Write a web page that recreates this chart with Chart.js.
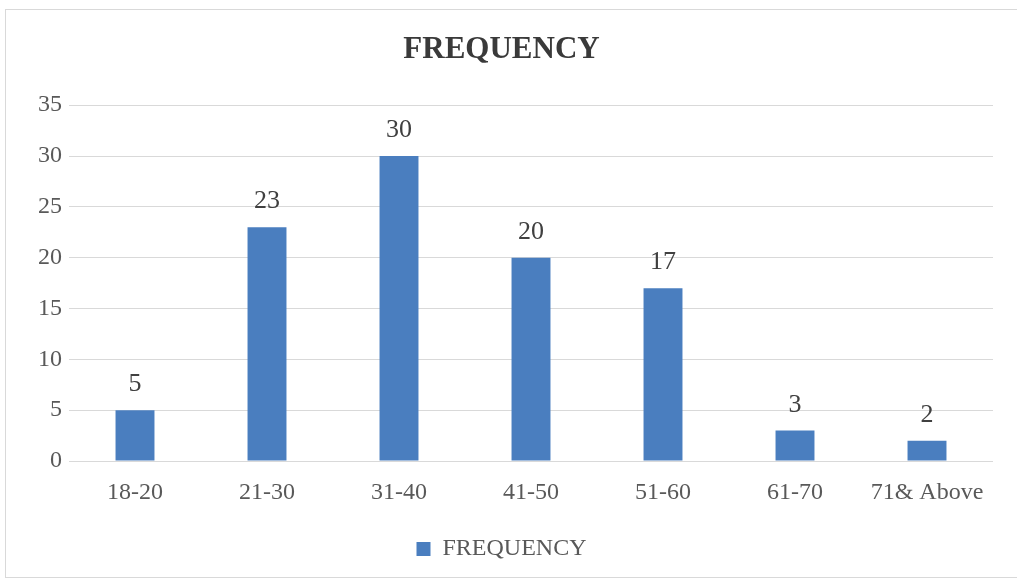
<!DOCTYPE html>
<html>
<head>
<meta charset="utf-8">
<script src="https://cdn.jsdelivr.net/npm/chart.js@4"></script>
<style>
  html, body { margin: 0; padding: 0; background: #ffffff; }
  body { width: 1017px; height: 581px; position: relative; overflow: hidden; }
  #frame { position: absolute; left: 5px; top: 9px; width: 1020px; height: 569px; border: 1px solid #d9d9d9; box-sizing: border-box; }
  #wrap { position: absolute; left: 0; top: 0; width: 1017px; height: 581px; }
</style>
</head>
<body>
<div id="frame"></div>
<div id="wrap"><canvas id="c" width="1017" height="581"></canvas></div>
<script>
const categories = ['18-20', '21-30', '31-40', '41-50', '51-60', '61-70', '71& Above'];
const frequencyValues = [5, 23, 30, 20, 17, 3, 2];
const yTicks = [0, 5, 10, 15, 20, 25, 30, 35];
const seriesName = 'FREQUENCY';

const FONT = "'Liberation Serif', 'Times New Roman', serif";

const valueLabels = {
  id: 'valueLabels',
  afterDatasetsDraw(chart) {
    const ctx = chart.ctx;
    ctx.save();
    ctx.font = '26px ' + FONT;
    ctx.fillStyle = '#404040';
    ctx.textAlign = 'center';
    ctx.textBaseline = 'alphabetic';
    chart.data.datasets.forEach((ds, di) => {
      const meta = chart.getDatasetMeta(di);
      meta.data.forEach((bar, i) => {
        ctx.fillText(String(ds.data[i]), bar.x, bar.y - 19);
      });
    });
    ctx.restore();
  }
};

new Chart(document.getElementById('c'), {
  type: 'bar',
  data: {
    labels: categories,
    datasets: [{
      label: seriesName,
      data: frequencyValues,
      backgroundColor: '#4a7ebf',
      borderWidth: 0,
      barPercentage: 0.295,
      categoryPercentage: 1.0
    }]
  },
  options: {
    responsive: false,
    animation: false,
    devicePixelRatio: 1,
    layout: { padding: { left: 10, right: 24, top: 10, bottom: 10 } },
    plugins: {
      title: {
        display: true,
        text: 'FREQUENCY',
        color: '#3a3a3a',
        font: { family: FONT, size: 31, weight: 'bold', lineHeight: 1.2 },
        padding: { top: 21, bottom: 37 }
      },
      legend: {
        display: true,
        position: 'bottom',
        labels: {
          color: '#595959',
          font: { family: FONT, size: 24 },
          boxWidth: 14,
          boxHeight: 14,
          padding: 10
        }
      },
      tooltip: { enabled: false }
    },
    scales: {
      x: {
        grid: { display: false, drawTicks: false },
        border: { display: false },
        ticks: {
          color: '#595959',
          font: { family: FONT, size: 24 },
          padding: 17,
          maxRotation: 0,
          autoSkip: false
        },
        afterFit(scale) { scale.height = 66; }
      },
      y: {
        min: 0,
        max: 35,
        afterBuildTicks(scale) { scale.ticks = yTicks.map(v => ({ value: v })); },
        grid: { color: '#d9d9d9', lineWidth: 1, drawTicks: false },
        border: { display: false },
        ticks: {
          color: '#595959',
          font: { family: FONT, size: 24 },
          padding: 7
        },
        afterFit(scale) { scale.width = 59; }
      }
    }
  },
  plugins: [valueLabels]
});
</script>
</body>
</html>
